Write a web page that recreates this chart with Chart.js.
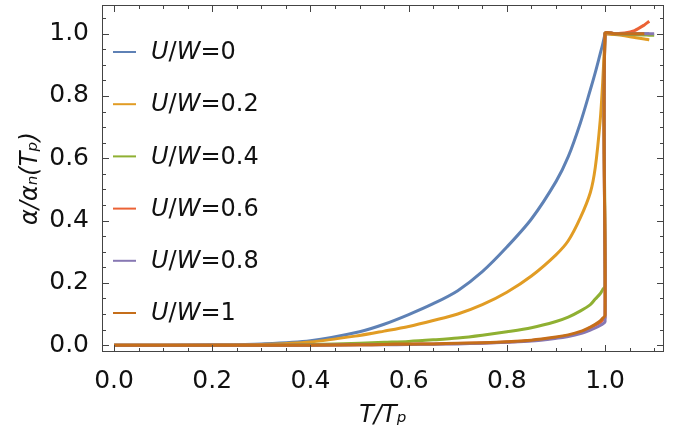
<!DOCTYPE html>
<html>
<head>
<meta charset="utf-8">
<script src="https://cdn.jsdelivr.net/npm/chart.js@4.4.0/dist/chart.umd.min.js"></script>
<style>
  html, body { margin: 0; padding: 0; background: #fff; }
  #wrap { width: 695px; height: 430px; }
</style>
</head>
<body>
<div id="wrap"><canvas id="alphaChart"></canvas></div>
<script>
// Rejilla de T/Tp por debajo y por encima de la transición
const tBelow = [0, 0.1, 0.2, 0.3, 0.4, 0.5, 0.55, 0.6, 0.65, 0.7, 0.75, 0.8, 0.85, 0.9, 0.925, 0.95, 0.97, 0.98, 0.99, 0.995, 1.0];
const tAbove = [1.0, 1.02, 1.04, 1.06, 1.08, 1.09, 1.1];

// Etiquetas de la leyenda (valor de U/W)
const uwLabels = ['0', '0.2', '0.4', '0.6', '0.8', '1'];
const colores = ['#5E81B5', '#E19C24', '#8FB032', '#EB6235', '#8778B3', '#C56E1A'];

// alpha / alpha_n(Tp) por debajo de Tp
const belowUW0  = [0, 0, 0.001, 0.004, 0.014, 0.043, 0.067, 0.098, 0.133, 0.175, 0.236, 0.315, 0.405, 0.525, 0.605, 0.715, 0.82, 0.875, 0.935, 0.965, 1.0];
const belowUW02 = [0, 0, 0, 0.002, 0.01, 0.031, 0.045, 0.06, 0.079, 0.1, 0.13, 0.17, 0.222, 0.29, 0.335, 0.41, 0.49, 0.57, 0.72, 0.84, 1.0];
const belowUW04 = [0, 0, 0, 0, 0.002, 0.006, 0.009, 0.012, 0.017, 0.023, 0.032, 0.043, 0.056, 0.076, 0.09, 0.11, 0.13, 0.148, 0.165, 0.178, 0.19];
const belowUW06 = [0, 0, 0, 0, 0, 0.001, 0.002, 0.003, 0.004, 0.005, 0.007, 0.01, 0.015, 0.024, 0.031, 0.041, 0.056, 0.064, 0.073, 0.08, 0.088];
const belowUW08 = [0, 0, 0, 0, 0, 0.001, 0.001, 0.002, 0.003, 0.004, 0.006, 0.009, 0.013, 0.022, 0.028, 0.037, 0.048, 0.055, 0.063, 0.068, 0.075];
const belowUW1  = [0, 0, 0, 0, 0, 0.001, 0.002, 0.003, 0.004, 0.006, 0.008, 0.011, 0.016, 0.026, 0.033, 0.044, 0.058, 0.067, 0.078, 0.086, 0.096];

// alpha / alpha_n(Tp) por encima de Tp (null = la curva ya terminó)
const aboveUW0  = [1.0, 1.0, 1.0, 1.0, 1.0, 1.0, null];
const aboveUW02 = [1.0, 0.997, 0.993, 0.988, 0.983, 0.98, null];
const aboveUW04 = [1.0, 0.999, 0.998, 0.997, 0.996, 0.995, 0.995];
const aboveUW06 = [1.0, 1.0, 1.002, 1.01, 1.028, 1.04, null];
const aboveUW08 = [1.0, 1.0, 1.0, 1.0, 1.0, 1.0, 1.0];
const aboveUW1  = [1.0, 1.0, 1.0, 1.0, 1.0, null, null];

const belowAll = [belowUW0, belowUW02, belowUW04, belowUW06, belowUW08, belowUW1];
const aboveAll = [aboveUW0, aboveUW02, aboveUW04, aboveUW06, aboveUW08, aboveUW1];

// Marcas de los ejes
const xMajor = [0, 0.2, 0.4, 0.6, 0.8, 1.0];
const xMinor = [0.05, 0.1, 0.15, 0.25, 0.3, 0.35, 0.45, 0.5, 0.55, 0.65, 0.7, 0.75, 0.85, 0.9, 0.95, 1.05, 1.1];
const yMajor = [0, 0.2, 0.4, 0.6, 0.8, 1.0];
const yMinor = [0.05, 0.1, 0.15, 0.25, 0.3, 0.35, 0.45, 0.5, 0.55, 0.65, 0.7, 0.75, 0.85, 0.9, 0.95, 1.05];

function juntarPuntos(below, above) {
    const pts = tBelow.map((t, i) => ({ x: t, y: below[i] }));
    tAbove.forEach((t, i) => {
        if (above[i] !== null) pts.push({ x: t, y: above[i] });
    });
    return pts;
}

// Marco con marcas hacia dentro, estilo Mathematica
const marcoPlugin = {
    id: 'marco',
    afterDraw(chart) {
        const { ctx, chartArea: a, scales } = chart;
        ctx.save();
        ctx.strokeStyle = '#444';
        ctx.lineWidth = 1;
        ctx.strokeRect(a.left + 0.5, a.top + 0.5, a.right - a.left - 1, a.bottom - a.top - 1);
        const marcas = (vals, len) => {
            vals.forEach(v => {
                const px = Math.round(scales.x.getPixelForValue(v)) + 0.5;
                ctx.beginPath();
                ctx.moveTo(px, a.bottom); ctx.lineTo(px, a.bottom - len);
                ctx.moveTo(px, a.top); ctx.lineTo(px, a.top + len);
                ctx.stroke();
            });
        };
        const marcasY = (vals, len) => {
            vals.forEach(v => {
                const py = Math.round(scales.y.getPixelForValue(v)) + 0.5;
                ctx.beginPath();
                ctx.moveTo(a.left, py); ctx.lineTo(a.left + len, py);
                ctx.moveTo(a.right, py); ctx.lineTo(a.right - len, py);
                ctx.stroke();
            });
        };
        marcas(xMajor, 7); marcas(xMinor, 4);
        marcasY(yMajor, 7); marcasY(yMinor, 4);
        ctx.restore();
    }
};

// Leyenda dentro del área del gráfico con U y W en cursiva
const leyendaPlugin = {
    id: 'leyendaUW',
    afterDraw(chart) {
        const ctx = chart.ctx;
        ctx.save();
        ctx.textBaseline = 'middle';
        uwLabels.forEach((lab, i) => {
            const y = 52 + i * 52.2;
            ctx.strokeStyle = colores[i];
            ctx.lineWidth = 2;
            ctx.beginPath();
            ctx.moveTo(113, y); ctx.lineTo(136, y);
            ctx.stroke();
            let x = 151;
            const partes = [['U', true], ['/', false], ['W', true], ['=' + lab, false]];
            partes.forEach(([txt, it]) => {
                ctx.font = (it ? 'italic ' : '') + '24px "DejaVu Sans"';
                ctx.fillStyle = '#111';
                ctx.fillText(txt, x, y + 1);
                x += ctx.measureText(txt).width;
            });
        });
        ctx.restore();
    }
};

function crearGrafico() {
    const ctx = document.getElementById('alphaChart').getContext('2d');
    const datasets = uwLabels.map((lab, i) => ({
        label: 'U/W=' + lab,
        data: juntarPuntos(belowAll[i], aboveAll[i]),
        borderColor: colores[i],
        backgroundColor: colores[i],
        borderWidth: 3,
        pointRadius: 0,
        tension: 0.3,
        fill: false,
        order: uwLabels.length - i
    }));

    new Chart(ctx, {
        type: 'line',
        data: { datasets },
        options: {
            responsive: true,
            maintainAspectRatio: false,
            animation: false,
            layout: { padding: { left: 0, right: 31, top: 5, bottom: 0 } },
            plugins: {
                legend: { display: false },
                tooltip: { enabled: false }
            },
            scales: {
                x: {
                    type: 'linear',
                    min: -0.0245,
                    max: 1.12,
                    afterFit: s => { s.height = 78; s.paddingLeft = 0; s.paddingRight = 0; },
                    afterBuildTicks: s => { s.ticks = xMajor.map(v => ({ value: v })); },
                    grid: { display: false },
                    border: { display: false },
                    ticks: {
                        callback: v => v.toFixed(1),
                        color: '#111',
                        font: { family: 'DejaVu Sans', size: 25 },
                        padding: 6,
                        maxRotation: 0
                    },
                    title: {
                        display: true,
                        text: 'T/Tₚ',
                        color: '#111',
                        font: { family: 'DejaVu Sans', size: 24, style: 'italic' },
                        padding: { top: 0, bottom: 0 }
                    }
                },
                y: {
                    min: -0.022,
                    max: 1.092,
                    afterFit: s => { s.width = 102; s.paddingTop = 0; s.paddingBottom = 0; },
                    afterBuildTicks: s => { s.ticks = yMajor.map(v => ({ value: v })); },
                    grid: { display: false },
                    border: { display: false },
                    ticks: {
                        callback: v => v.toFixed(1),
                        color: '#111',
                        font: { family: 'DejaVu Sans', size: 25 },
                        padding: 5
                    },
                    title: {
                        display: true,
                        text: 'α/αₙ(Tₚ)',
                        color: '#111',
                        font: { family: 'DejaVu Sans', size: 24, style: 'italic' },
                        padding: { top: 16, bottom: 0 }
                    }
                }
            }
        },
        plugins: [marcoPlugin, leyendaPlugin]
    });
}

document.addEventListener('DOMContentLoaded', () => {
    crearGrafico();
});
</script>
</body>
</html>
